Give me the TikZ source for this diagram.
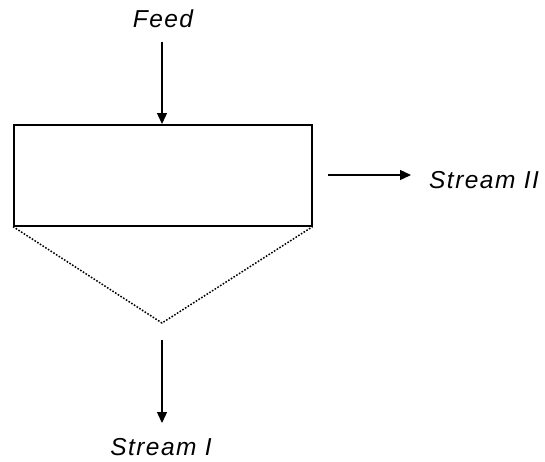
\documentclass[tikz,border=0pt]{standalone}
\usepackage{fontspec}
\setmainfont{Liberation Sans}
\usetikzlibrary{arrows.meta}
\begin{document}
\begin{tikzpicture}[x=1pt,y=-1pt,
  lbl/.style={font=\fontsize{24.5}{28}\selectfont\itshape\addfontfeature{LetterSpace=6}, inner sep=0pt},
  flow/.style={line width=1.3pt, -{Triangle[length=11pt,width=10pt]}},
  vessel/.style={draw, line width=1.6pt},
  cone/.style={line width=1.5pt, dash pattern=on 1.6pt off 1.6pt}]
\useasboundingbox (0,0) rectangle (545,461);
\node[vessel, minimum width=298pt, minimum height=101pt, inner sep=0pt, anchor=north west] (box) at (13,124) {};
\coordinate (apex) at (162,323);
\draw[cone] (box.south west) -- (apex) -- (box.south east);
\node[lbl] (feed) at (163,19) {Feed};
\coordinate (feedtop) at (162,42);
\draw[flow] (feedtop) -- (feedtop |- box.north);
\coordinate (s2a) at (328,175);
\coordinate (s2b) at (411,175);
\draw[flow] (s2a) -- (s2b);
\node[lbl, anchor=west] (s2) at (429,180) {Stream II};
\coordinate (s1a) at (162,340);
\coordinate (s1b) at (162,423);
\draw[flow] (s1a) -- (s1b);
\node[lbl] (s1) at (161,447) {Stream I};
\end{tikzpicture}
\end{document}
